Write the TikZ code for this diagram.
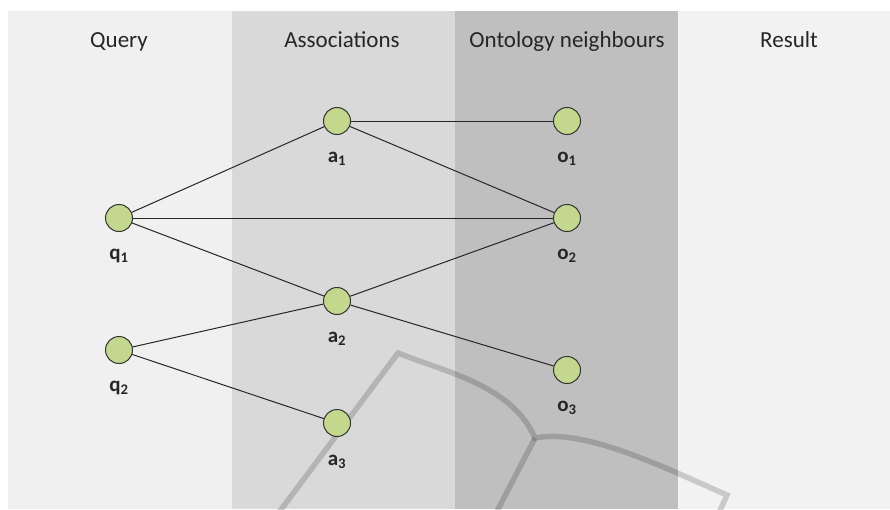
\documentclass[tikz,border=0pt]{standalone}
\usepackage{fontspec}
\setmainfont{Carlito}
\begin{document}
\begin{tikzpicture}[x=1pt,y=-1pt,
  header/.style={font=\fontsize{23}{26}\selectfont, text=black!85, anchor=base},
  vertex/.style={circle, fill=vgreen, draw=black!80, line width=1pt, minimum size=27pt, inner sep=0pt},
  vlabel/.style={font=\bfseries\fontsize{21}{24}\selectfont, text=black!85, anchor=base},
  link/.style={draw=black!85, line width=1pt},
  mark stroke/.style={draw=black, opacity=0.17, line width=5.5pt, line join=miter}
]
\definecolor{vgreen}{HTML}{C3D88C}
\definecolor{colA}{HTML}{F0F0F0}
\definecolor{colB}{HTML}{D9D9D9}
\definecolor{colC}{HTML}{BFBFBF}
\definecolor{colD}{HTML}{F2F2F2}

\useasboundingbox (0,0) rectangle (890,509);
\fill[white] (0,0) rectangle (890,509);

% column bands
\fill[colA] (8,11) rectangle (232,509);
\fill[colB] (232,11) rectangle (455,509);
\fill[colC] (455,11) rectangle (678,509);
\fill[colD] (678,11) rectangle (890,509);

% column titles
\node[header] (hq) at (119,47) {Query};
\node[header] (ha) at (342,47) {Associations};
\node[header] (ho) at (567,47) {Ontology neighbours};
\node[header] (hr) at (789,47) {Result};

% background mark strokes
\draw[mark stroke] (277,515) -- (398,353)
  .. controls (445,372) and (512,385) .. (535,438)
  .. controls (585,428) and (665,468) .. (727,495) -- (718,515);
\draw[mark stroke] (535,438) -- (495,515);

% vertices
\node[vertex] (q1) at (119,218) {};
\node[vertex] (q2) at (119,350) {};
\node[vertex] (a1) at (337,121) {};
\node[vertex] (a2) at (337,301) {};
\node[vertex] (a3) at (337,423) {};
\node[vertex] (o1) at (567,121) {};
\node[vertex] (o2) at (567,218) {};
\node[vertex] (o3) at (567,370) {};

% vertex labels
\node[vlabel] (lq1) at (119,259) {q\textsubscript{1}};
\node[vlabel] (lq2) at (119,391) {q\textsubscript{2}};
\node[vlabel] (la1) at (337,162) {a\textsubscript{1}};
\node[vlabel] (la2) at (337,342) {a\textsubscript{2}};
\node[vlabel] (la3) at (337,465) {a\textsubscript{3}};
\node[vlabel] (lo1) at (567,162) {o\textsubscript{1}};
\node[vlabel] (lo2) at (567,259) {o\textsubscript{2}};
\node[vlabel] (lo3) at (567,411) {o\textsubscript{3}};

% links
\draw[link] (q1) -- (a1);
\draw[link] (q1) -- (o2);
\draw[link] (q1) -- (a2);
\draw[link] (q2) -- (a2);
\draw[link] (q2) -- (a3);
\draw[link] (a1) -- (o1);
\draw[link] (a1) -- (o2);
\draw[link] (a2) -- (o2);
\draw[link] (a2) -- (o3);
\end{tikzpicture}
\end{document}
